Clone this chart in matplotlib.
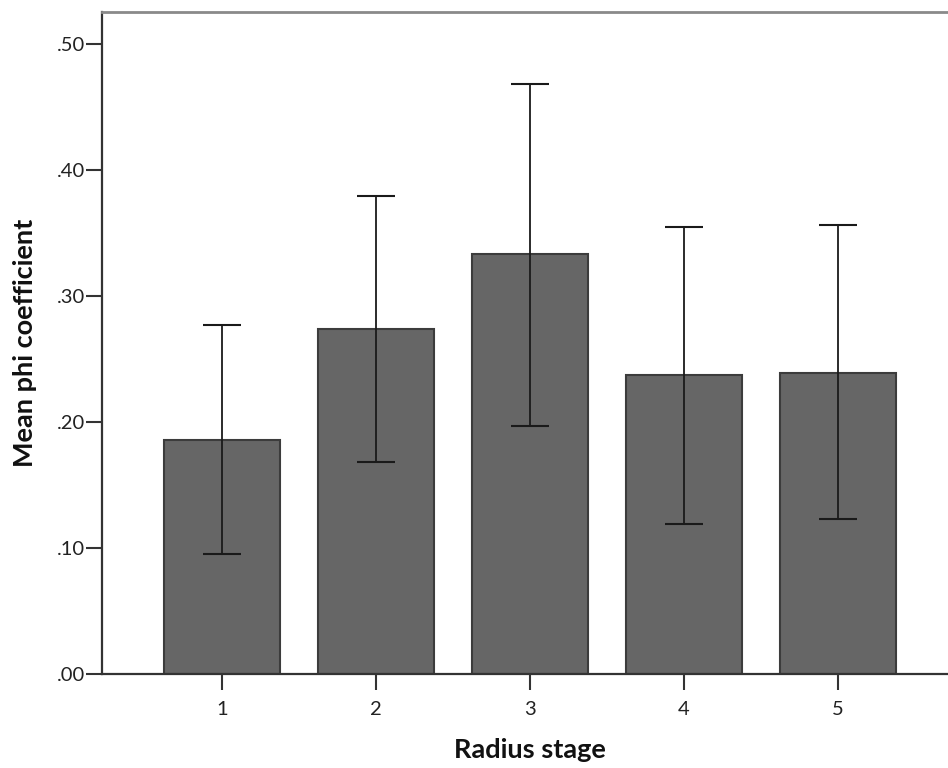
import matplotlib
matplotlib.use("Agg")
import matplotlib.pyplot as plt
import numpy as np

# Mean phi coefficient by radius stage, with 95% CI bounds
stages = ["1", "2", "3", "4", "5"]
means = [0.186, 0.274, 0.333, 0.237, 0.239]
ci_low = [0.095, 0.168, 0.197, 0.119, 0.123]
ci_high = [0.277, 0.379, 0.468, 0.355, 0.356]
y_ticks = [0.0, 0.1, 0.2, 0.3, 0.4, 0.5]
y_tick_labels = [".00", ".10", ".20", ".30", ".40", ".50"]

plt.rcParams["font.family"] = ["Lato", "DejaVu Sans"]

fig = plt.figure(figsize=(9.48, 7.68), dpi=100)
ax = fig.add_axes([102 / 948, 1 - 674 / 768, (958 - 102) / 948, (674 - 12) / 768])

x = np.arange(1, len(stages) + 1)
means_arr = np.array(means)
yerr = np.vstack([means_arr - np.array(ci_low), np.array(ci_high) - means_arr])

ax.bar(x, means_arr, width=0.753, color="#666666", edgecolor="#3c3c3c",
       linewidth=1.5, zorder=2)
ax.errorbar(x, means_arr, yerr=yerr, fmt="none", ecolor="#1a1a1a",
            elinewidth=1.3, capsize=14, capthick=1.5, zorder=3)

ax.set_xlim(0.22, 5.78)
ax.set_ylim(0, 0.5254)
ax.set_xticks(x)
ax.set_xticklabels(stages)
ax.set_yticks(y_ticks)
ax.set_yticklabels(y_tick_labels)

for side in ("left", "bottom"):
    ax.spines[side].set_color("#333333")
    ax.spines[side].set_linewidth(1.6)
ax.spines["top"].set_color("#8a8a8a")
ax.spines["top"].set_linewidth(2.0)
ax.spines["right"].set_visible(False)

ax.tick_params(axis="both", length=11.5, width=1.5, color="#333333",
               labelsize=14.5, labelcolor="#222222")
ax.tick_params(axis="y", pad=1)
ax.tick_params(axis="x", pad=8)

ax.set_xlabel("Radius stage", fontsize=19.5, fontweight="bold", color="#111111",
              labelpad=14)
ax.set_ylabel("Mean phi coefficient", fontsize=19.5, fontweight="bold",
              color="#111111", labelpad=14)

fig.savefig("out.png", dpi=100)
